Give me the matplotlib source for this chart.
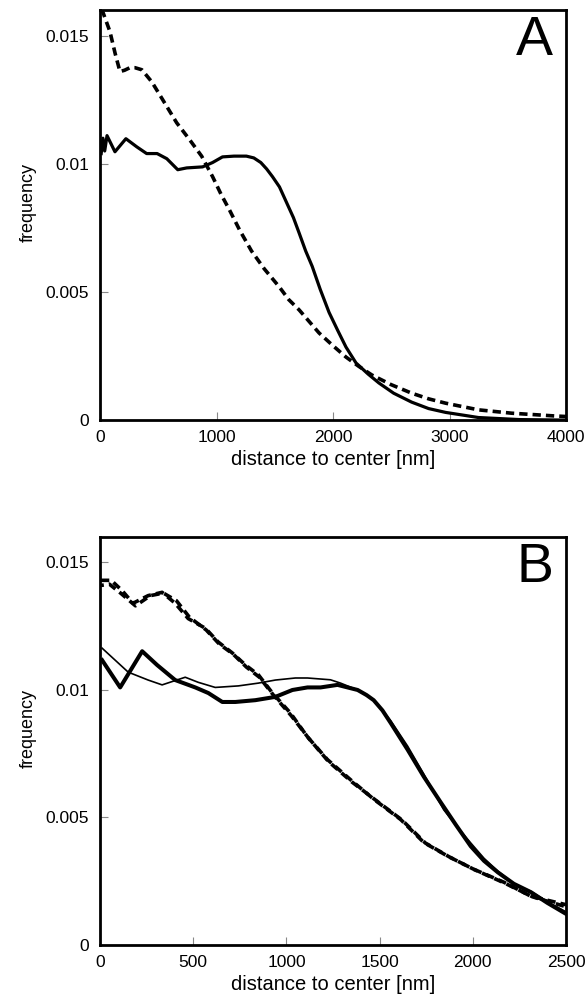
"""Radial frequency profiles, panels A and B, stacked."""

import matplotlib

matplotlib.use("Agg")
import matplotlib.pyplot as plt

plt.rcParams["font.family"] = ["Liberation Sans", "DejaVu Sans"]

# --- panel A -------------------------------------------------------------
a_solid_x = [10, 25, 40, 60, 128, 222, 316, 400, 490, 573, 667, 744, 880,
             966, 1051, 1150, 1256, 1320, 1380, 1430, 1480, 1540, 1600, 1660,
             1709, 1765, 1821, 1890, 1966, 2040, 2111, 2197, 2300, 2393, 2520,
             2675, 2820, 2966, 3248, 3600, 4000]
a_solid_y = [0.0104, 0.0110, 0.0105, 0.0111, 0.01047, 0.01098, 0.01066,
             0.0104, 0.0104, 0.0102, 0.00977, 0.00984, 0.00988, 0.01005,
             0.01027, 0.0103, 0.0103, 0.01023, 0.01005, 0.0098, 0.0095,
             0.0091, 0.0085, 0.0079, 0.0073, 0.0066, 0.0060, 0.0051, 0.0042,
             0.0035, 0.00285, 0.00223, 0.0018, 0.00145, 0.00105, 0.0007,
             0.00045, 0.0003, 0.0001, 0.00002, 0.0]

a_dash_x = [5, 26, 85, 130, 171, 210, 256, 300, 359, 444, 538, 658, 769, 872,
            966, 1040, 1111, 1200, 1300, 1410, 1538, 1620, 1709, 1880, 2000,
            2111, 2220, 2333, 2500, 2675, 2820, 2966, 3248, 3530, 3906, 4000]
a_dash_y = [0.0160, 0.0159, 0.01516, 0.0143, 0.0136, 0.01365, 0.01375,
            0.01375, 0.01367, 0.0132, 0.0125, 0.0116, 0.01094, 0.0103, 0.0095,
            0.0088, 0.0082, 0.0074, 0.0066, 0.0059, 0.0052, 0.0047, 0.0043,
            0.0034, 0.0029, 0.00246, 0.0021, 0.00176, 0.00138, 0.00105,
            0.00083, 0.00066, 0.0004, 0.00027, 0.00016, 0.00014]

# --- panel B -------------------------------------------------------------
b_dash1_x = [5, 60, 118, 177, 258, 333, 403, 473, 565, 634, 710, 780, 850,
             925, 1021, 1113, 1220, 1344, 1468, 1613, 1737, 1866, 2005, 2167,
             2312, 2500]
b_dash1_y = [0.0143, 0.0143, 0.0139, 0.0134, 0.0137, 0.01383, 0.0134,
             0.0128, 0.01242, 0.01188, 0.01145, 0.01098, 0.01059, 0.00988,
             0.0091, 0.00816, 0.00727, 0.00648, 0.00572, 0.00492, 0.00402,
             0.00348, 0.00297, 0.00246, 0.00191, 0.00158]

b_dash2_x = [5, 50, 110, 190, 270, 340, 410, 480, 570, 640, 715, 785, 855,
             930, 1025, 1120, 1225, 1350, 1475, 1620, 1745, 1875, 2010, 2170,
             2320, 2500]
b_dash2_y = [0.0141, 0.01415, 0.0138, 0.0133, 0.0137, 0.0138, 0.0135,
             0.01285, 0.01235, 0.0118, 0.0114, 0.0109, 0.0105, 0.0098, 0.0090,
             0.0081, 0.0072, 0.0064, 0.0057, 0.0049, 0.0040, 0.00345, 0.00295,
             0.00243, 0.00189, 0.00150]

b_thick_x = [11, 108, 226, 306, 403, 511, 581, 656, 726, 833, 941, 1032, 1113,
             1183, 1274, 1382, 1430, 1468, 1515, 1559, 1650, 1737, 1828, 1910,
             1989, 2060, 2134, 2220, 2312, 2400, 2500]
b_thick_y = [0.01117, 0.0101, 0.01152, 0.01098, 0.01039, 0.0101, 0.00988,
             0.00953, 0.00953, 0.0096, 0.00973, 0.0100, 0.0101, 0.0101,
             0.0102, 0.0100, 0.0098, 0.0096, 0.0092, 0.00871, 0.00766, 0.0066,
             0.00559, 0.0047, 0.00387, 0.0033, 0.00285, 0.0024, 0.00207,
             0.00165, 0.00122]

b_thin_x = [11, 151, 258, 333, 457, 527, 618, 742, 850, 941, 1048, 1113, 1236,
            1290, 1382, 1468, 1515, 1559, 1650, 1737, 1844, 1920, 1989, 2060,
            2134, 2220, 2312, 2400, 2500]
b_thin_y = [0.01164, 0.0107, 0.01039, 0.0102, 0.0105, 0.0103, 0.0101,
            0.01016, 0.01027, 0.01039, 0.01047, 0.01047, 0.0104, 0.01027,
            0.0100, 0.0096, 0.0092, 0.0088, 0.0078, 0.0067, 0.0053, 0.0046,
            0.0040, 0.0034, 0.00290, 0.0024, 0.00210, 0.0017, 0.00130]

y_ticks = [0, 0.005, 0.01, 0.015]
y_tick_labels = ["0", "0.005", "0.01", "0.015"]
a_x_ticks = [0, 1000, 2000, 3000, 4000]
b_x_ticks = [0, 500, 1000, 1500, 2000, 2500]

DASH = (0, (2.3, 1.4))


def _style(ax, xmax, xticks, letter):
    ax.set_xlim(0, xmax)
    ax.set_ylim(0, 0.016)
    ax.set_xticks(xticks)
    ax.set_xticklabels([str(t) for t in xticks])
    ax.set_yticks(y_ticks)
    ax.set_yticklabels(y_tick_labels)
    for side in ("top", "right", "bottom", "left"):
        ax.spines[side].set_linewidth(2.0)
    ax.tick_params(direction="in", length=6, width=0.8, color="#888888",
                   labelsize=12.5)
    ax.tick_params(axis="y", pad=8)
    ax.tick_params(axis="x", pad=7)
    ax.set_xlabel("distance to center [nm]", fontsize=14.5, labelpad=4)
    ax.set_ylabel("frequency", fontsize=13)
    ax.yaxis.set_label_coords(-0.135, 0.53)
    ax.text(0.972, 0.89, letter, transform=ax.transAxes, ha="right",
            va="baseline", fontsize=40)


fig = plt.figure(figsize=(5.85, 10.05), dpi=100)
ax_a = fig.add_axes([0.171, 0.582, 0.7966, 0.408])
ax_b = fig.add_axes([0.171, 0.0597, 0.7966, 0.406])

ax_a.plot(a_solid_x, a_solid_y, color="black", linewidth=2.3)
ax_a.plot(a_dash_x, a_dash_y, color="black", linewidth=2.6, linestyle=DASH)
_style(ax_a, 4000, a_x_ticks, "A")

ax_b.plot(b_dash1_x, b_dash1_y, color="black", linewidth=2.6, linestyle=DASH)
ax_b.plot(b_dash2_x, b_dash2_y, color="black", linewidth=2.6,
          linestyle=(1.5, (2.3, 1.4)))
ax_b.plot(b_thin_x, b_thin_y, color="black", linewidth=1.2)
ax_b.plot(b_thick_x, b_thick_y, color="black", linewidth=2.9)
_style(ax_b, 2500, b_x_ticks, "B")

fig.savefig("out.png", dpi=100)
